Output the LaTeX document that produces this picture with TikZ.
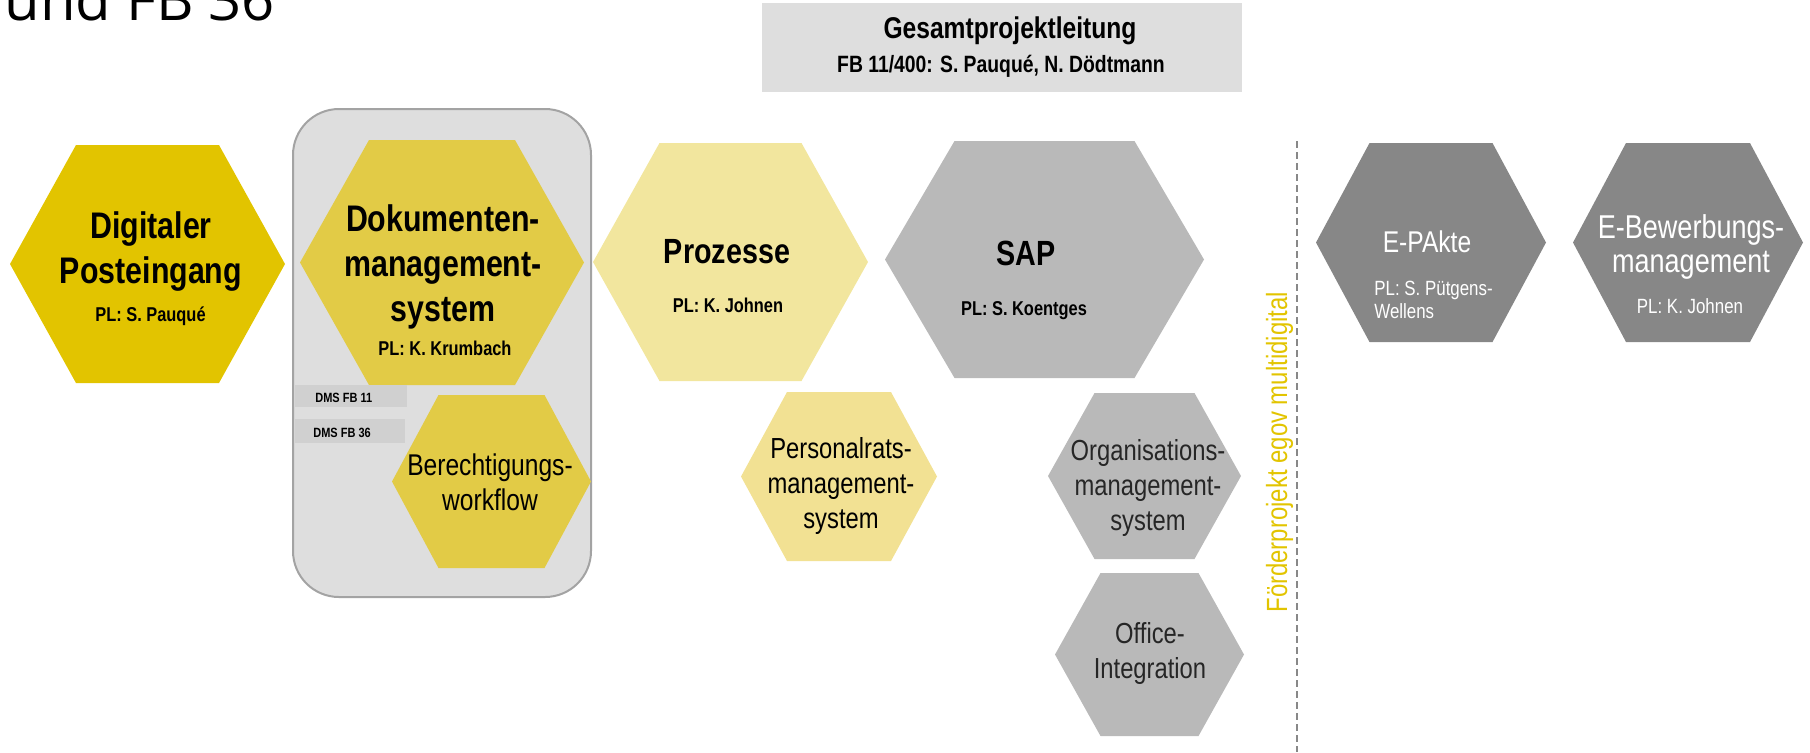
\documentclass[tikz,border=0pt]{standalone}
\usepackage{fontspec}
\setmainfont{Liberation Sans}[FakeStretch=0.82]
\newfontfamily\titelfont{Open Sans}

\definecolor{postgelb}{HTML}{E2C400}
\definecolor{dmsgelb}{HTML}{E2CB46}
\definecolor{hellgelb}{HTML}{F2E69E}
\definecolor{ratgelb}{HTML}{F2E193}
\definecolor{sapgrau}{HTML}{B9B9B9}
\definecolor{dunkelgrau}{HTML}{878787}
\definecolor{boxgrau}{HTML}{DEDEDE}
\definecolor{randgrau}{HTML}{A3A3A3}
\definecolor{balkengrau}{HTML}{D0D0D0}
\definecolor{linie}{HTML}{888888}

% Wabe: Farbe, Mitte x, Mitte y, halbe Breite, halbe Hoehe, halbe Kante oben
\newcommand{\wabe}[6]{\fill[#1] ({#2-#4},#3) -- ({#2-#6},{#3-#5}) -- ({#2+#6},{#3-#5}) -- ({#2+#4},#3) -- ({#2+#6},{#3+#5}) -- ({#2-#6},{#3+#5}) -- cycle;}

\tikzset{
  txt/.style={inner sep=0pt, anchor=base, align=center},
  gross/.style={txt, font=\bfseries\fontsize{18.5}{22.3}\selectfont},
  mittel/.style={txt, font=\bfseries\fontsize{17.5}{21}\selectfont},
  normal/.style={txt, font=\fontsize{14.5}{17.5}\selectfont},
  pl/.style={txt, font=\bfseries\fontsize{10}{12}\selectfont},
  weiss/.style={txt, text=white, font=\fontsize{16.5}{17}\selectfont},
  weisspl/.style={txt, text=white, font=\fontsize{10.3}{11.5}\selectfont},
  klein/.style={inner sep=0pt, anchor=base west, font=\bfseries\fontsize{6.7}{8}\selectfont},
}

\begin{document}
\begin{tikzpicture}[x=0.5pt,y=-0.5pt]
\useasboundingbox (0,0) rectangle (1810,752);

\node[inner sep=0pt, anchor=base west, font=\titelfont\fontsize{29}{34}\selectfont] (titel) at (4,20) {und FB 36};

% Gesamtprojektleitung
\fill[boxgrau] (762,3) rectangle (1242,92);
\node[txt, font=\bfseries\fontsize{15}{18}\selectfont] (gpl) at (1010,38) {Gesamtprojektleitung};
\node[txt, font=\bfseries\fontsize{11.8}{14}\selectfont] (gplnamen) at (1001,72) {FB 11/400: S. Pauqué, N. Dödtmann};

% DMS-Gruppe
\filldraw[fill=boxgrau, draw=randgrau, line width=1pt, rounded corners=23pt] (293,109) rectangle (591,597);

\wabe{postgelb}{147.5}{264}{137.5}{119}{71.5}
\wabe{dmsgelb}{442}{262.5}{142}{122.5}{73}
\wabe{dmsgelb}{491.5}{481.5}{99.5}{86.5}{53}
\wabe{hellgelb}{730.5}{262}{137.5}{119}{71}
\wabe{sapgrau}{1044.5}{259.5}{159.5}{118.5}{90}
\wabe{ratgelb}{839}{476.5}{98}{84.5}{52}
\wabe{sapgrau}{1144.5}{476}{96.5}{83}{50}
\wabe{sapgrau}{1149.5}{654.5}{94.5}{81.5}{49}
\wabe{dunkelgrau}{1431}{242.5}{115}{99.5}{61.5}
\wabe{dunkelgrau}{1688}{242.5}{115}{99.5}{62}

% mehrzeilige Knoten: base = Grundlinie der letzten Zeile
\node[gross] (post) at (151,283) {Digitaler\\Posteingang};
\node[pl] (postpl) at (150.5,321) {PL: S. Pauqué};

\node[gross] (dms) at (443,321) {Dokumenten-\\management-\\system};
\node[pl] (dmspl) at (445,355) {PL: K. Krumbach};

\fill[balkengrau] (295,385) rectangle (407,407);
\node[klein] (fb11) at (315,402) {DMS FB 11};
\fill[balkengrau] (295,419) rectangle (405,443);
\node[klein] (fb36) at (313,437) {DMS FB 36};

\node[txt, font=\fontsize{15}{17.5}\selectfont] (recht) at (490,510) {Berechtigungs-\\workflow};

\node[mittel] (proz) at (727,263) {Prozesse};
\node[pl] (prozpl) at (728,312) {PL: K. Johnen};

\node[mittel] (sap) at (1026,265) {SAP};
\node[pl] (sappl) at (1024,315) {PL: S. Koentges};

\node[normal] (prat) at (841,528) {Personalrats-\\management-\\system};
\node[normal, text=black!85] (orga) at (1148,530) {Organisations-\\management-\\system};
\node[normal, text=black!85] (office) at (1150,678) {Office-\\Integration};

% Trennlinie
\coordinate (trennoben) at (1297,141);
\coordinate (trennunten) at (1297,752);
\draw[linie, line width=1pt, dash pattern=on 3.5pt off 2pt] (trennoben) -- (trennunten);
\node[inner sep=0pt, anchor=base west, rotate=90, text=postgelb, font=\fontsize{14.6}{16}\selectfont] (foerder) at (1287,613) {Förderprojekt egov multidigital};

\node[weiss, font=\fontsize{15}{17}\selectfont] (epakte) at (1427,252) {E-PAkte};
\node[weisspl, align=left, anchor=base west] (epaktepl) at (1374,318) {PL: S. Pütgens-\\Wellens};

\node[weiss] (ebew) at (1691,272) {E-Bewerbungs-\\management};
\node[weisspl] (ebewpl) at (1690,313) {PL: K. Johnen};
\end{tikzpicture}
\end{document}
